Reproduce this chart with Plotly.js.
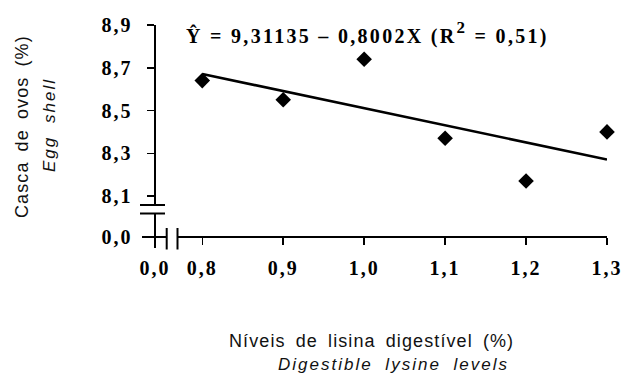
<!DOCTYPE html>
<html>
<head>
<meta charset="utf-8">
<script src="https://cdn.plot.ly/plotly-3.0.1.min.js"></script>
<style>
  html, body { margin: 0; padding: 0; background: #ffffff; }
  #chart { width: 629px; height: 374px; }
  /* the reference uses generously tracked lettering */
  text.annotation-text[style*="Liberation Sans"] { letter-spacing: 1.1px; word-spacing: 4px; }
  text.annotation-text[style*="italic"] { letter-spacing: 2px; word-spacing: 6px; }
  text.annotation-text[style*="Liberation Serif"] { letter-spacing: 2.3px; }
  .xtick text, .ytick text, .x2tick text, .y2tick text { letter-spacing: 2px; }
</style>
</head>
<body>
<div id="chart"></div>
<script>
// ---- data ----
const lysineLevels = [0.8, 0.9, 1.0, 1.1, 1.2, 1.3];
const eggShellPct = [8.64, 8.55, 8.74, 8.37, 8.17, 8.40];
const fitX = [0.8, 1.3];
const fitY = [8.671, 8.271];
const xTickVals = [0.8, 0.9, 1.0, 1.1, 1.2, 1.3];
const xTickText = ['0,8', '0,9', '1,0', '1,1', '1,2', '1,3'];
const yTickVals = [8.1, 8.3, 8.5, 8.7, 8.9];
const yTickText = ['8,1', '8,3', '8,5', '8,7', '8,9'];
const breakTickVals = [0];
const breakTickText = ['0,0'];
const equationText = 'Ŷ = 9,31135 – 0,8002X (R<span style="baseline-shift:10px;font-size:17px">2</span> = 0,51)';
const yTitle = 'Casca de ovos (%)';
const yTitleEn = 'Egg shell';
const xTitle = 'Níveis de lisina digestível (%)';
const xTitleEn = 'Digestible lysine levels';

// ---- geometry helpers (pixel -> paper fraction) ----
const W = 629, H = 374;
const px = v => v / W;
const py = v => 1 - v / H;

const serif = 'Liberation Serif, Times New Roman, serif';
const sans = 'Liberation Sans, Arial, sans-serif';
const tickFont = { family: serif, size: 20, color: '#000', weight: 'bold' };

const traces = [
  {
    x: fitX, y: fitY, xaxis: 'x', yaxis: 'y',
    mode: 'lines', line: { color: '#000', width: 2.6 },
    hoverinfo: 'skip', cliponaxis: false
  },
  {
    x: lysineLevels, y: eggShellPct, xaxis: 'x', yaxis: 'y',
    mode: 'markers', marker: { symbol: 'diamond', size: 12, color: '#000' },
    cliponaxis: false
  },
  { x: [], y: [], xaxis: 'x2', yaxis: 'y2', mode: 'markers' }
];

const axisCommon = {
  showgrid: false, zeroline: false, showline: true,
  linecolor: '#000', linewidth: 2,
  ticks: 'outside', ticklen: 7, tickwidth: 1.5, tickcolor: '#000',
  tickfont: tickFont, fixedrange: true, tickmode: 'array'
};

const layout = {
  width: W, height: H,
  margin: { l: 0, r: 0, t: 0, b: 0 },
  paper_bgcolor: '#ffffff', plot_bgcolor: 'rgba(0,0,0,0)',
  showlegend: false,
  xaxis: Object.assign({}, axisCommon, {
    domain: [px(177.5), px(607)], range: [0.7694, 1.3],
    anchor: 'free', position: py(237.3),
    tickvals: xTickVals, ticktext: xTickText, ticklabelstandoff: 6
  }),
  xaxis2: Object.assign({}, axisCommon, {
    domain: [px(142), px(167)], range: [-0.13, 0.12],
    anchor: 'free', position: py(237.3),
    tickvals: breakTickVals, ticktext: breakTickText, ticklabelstandoff: 6
  }),
  yaxis: Object.assign({}, axisCommon, {
    domain: [py(205), py(25)], range: [8.058, 8.9],
    anchor: 'free', position: px(154.5),
    tickvals: yTickVals, ticktext: yTickText, ticklabelstandoff: 10
  }),
  yaxis2: Object.assign({}, axisCommon, {
    domain: [py(248), py(213.5)], range: [-0.107, 0.238],
    anchor: 'free', position: px(154.5),
    tickvals: breakTickVals, ticktext: breakTickText, ticklabelstandoff: 10
  }),
  shapes: [
    // axis-break marks
    { type: 'line', xref: 'paper', yref: 'paper', x0: px(140), x1: px(165), y0: py(205), y1: py(205), line: { color: '#000', width: 2 } },
    { type: 'line', xref: 'paper', yref: 'paper', x0: px(140), x1: px(165), y0: py(213.5), y1: py(213.5), line: { color: '#000', width: 2 } },
    { type: 'line', xref: 'paper', yref: 'paper', x0: px(166.7), x1: px(166.7), y0: py(228), y1: py(249.5), line: { color: '#000', width: 2 } },
    { type: 'line', xref: 'paper', yref: 'paper', x0: px(177.5), x1: px(177.5), y0: py(228), y1: py(249.5), line: { color: '#000', width: 2 } }
  ],
  annotations: [
    { text: equationText, xref: 'paper', yref: 'paper', x: px(184), y: py(32.5), xanchor: 'left', yanchor: 'middle',
      showarrow: false, font: { family: serif, size: 20, color: '#000', weight: 'bold' } },
    { text: yTitle, xref: 'paper', yref: 'paper', x: px(22), y: py(127), xanchor: 'center', yanchor: 'middle',
      textangle: -90, showarrow: false, font: { family: sans, size: 18, color: '#111' } },
    { text: yTitleEn, xref: 'paper', yref: 'paper', x: px(49), y: py(125), xanchor: 'center', yanchor: 'middle',
      textangle: -90, showarrow: false, font: { family: sans, size: 17, color: '#111', style: 'italic' } },
    { text: xTitle, xref: 'paper', yref: 'paper', x: px(227), y: py(341), xanchor: 'left', yanchor: 'middle',
      showarrow: false, font: { family: sans, size: 18, color: '#111' } },
    { text: xTitleEn, xref: 'paper', yref: 'paper', x: px(276), y: py(364), xanchor: 'left', yanchor: 'middle',
      showarrow: false, font: { family: sans, size: 17, color: '#111', style: 'italic' } }
  ]
};

Plotly.newPlot('chart', traces, layout, { staticPlot: true, displayModeBar: false });
</script>
</body>
</html>
